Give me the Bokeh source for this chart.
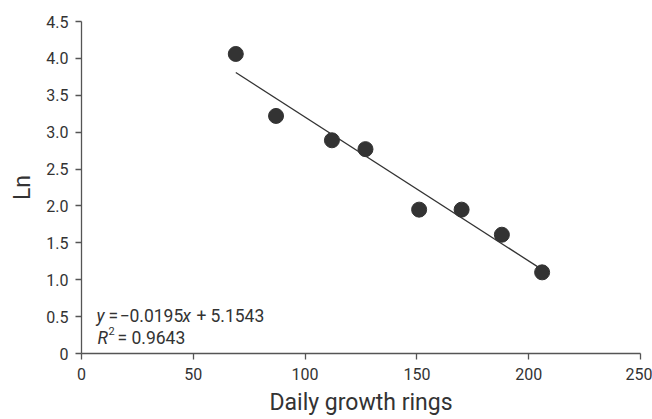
from bokeh.plotting import figure
from bokeh.models import Range1d, Label, FixedTicker
from bokeh.embed import file_html
from bokeh.resources import INLINE

# Data
rings = [69, 87, 112, 127, 151, 170, 188, 206]
ln_vals = [4.06, 3.22, 2.89, 2.77, 1.95, 1.95, 1.61, 1.10]
slope = -0.0195
intercept = 5.1543
r2 = 0.9643
x_ticks = [0, 50, 100, 150, 200, 250]
y_ticks = [0, 0.5, 1.0, 1.5, 2.0, 2.5, 3.0, 3.5, 4.0, 4.5]
y_tick_labels = ["0", "0.5", "1.0", "1.5", "2.0", "2.5", "3.0", "3.5", "4.0", "4.5"]

FONT = "Roboto"
INK = "#333333"
AX = "#555555"

p = figure(width=652, height=419, output_backend="svg", toolbar_location=None,
           x_range=Range1d(0, 250), y_range=Range1d(0, 4.5),
           min_border_left=81, min_border_right=12, min_border_top=21, min_border_bottom=66)
p.outline_line_color = None
p.grid.visible = False
p.background_fill_color = "white"
p.border_fill_color = "white"

# trendline
x0, x1 = min(rings), max(rings)
p.line([x0, x1], [slope * x0 + intercept, slope * x1 + intercept], line_color=INK, line_width=1.3)
p.scatter(rings, ln_vals, size=15, fill_color=INK, line_color=INK)

for ax in (p.xaxis[0], p.yaxis[0]):
    ax.axis_line_color = AX
    ax.axis_line_width = 1.3
    ax.major_tick_line_color = AX
    ax.major_tick_line_width = 1.3
    ax.major_tick_out = 6
    ax.major_tick_in = 0
    ax.minor_tick_line_color = None
    ax.major_label_text_font = FONT
    ax.major_label_text_font_size = "16px"
    ax.major_label_text_color = INK
    ax.axis_label_text_font = FONT
    ax.axis_label_text_font_size = "23px"
    ax.axis_label_text_font_style = "normal"
    ax.axis_label_text_color = INK

p.xaxis.ticker = FixedTicker(ticks=x_ticks)
p.yaxis.ticker = FixedTicker(ticks=y_ticks)
p.yaxis.major_label_overrides = {t: l for t, l in zip(y_ticks, y_tick_labels)}
p.xaxis.axis_label = "Daily growth rings"
p.yaxis.axis_label = "Ln"
p.xaxis.major_label_standoff = 8
p.yaxis.major_label_standoff = 7
p.xaxis.axis_label_standoff = 6
p.yaxis.axis_label_standoff = 7

# equation annotation
ex = 6.7
ey1 = 0.512
ey2 = 0.213
FS = "17.5px"
pieces = [
    ("y", 0, 0, "italic", FS),
    ("=", 12, 0, "normal", FS),
    ("\u22120.0195", 23, 0, "normal", FS),
    ("x", 86, 0, "italic", FS),
    ("+", 100, 0, "normal", FS),
    ("%.4f" % intercept, 114, 0, "normal", FS),
]
for t, dx, dy, st, fs in pieces:
    p.add_layout(Label(x=ex, y=ey1, text=t, x_offset=dx, y_offset=dy, text_font=FONT,
                       text_font_style=st, text_font_size=fs, text_color=INK,
                       text_baseline="alphabetic"))
pieces2 = [
    ("R", 1, 0, "italic", FS),
    ("2", 12, 7, "normal", "11px"),
    ("=", 21, 0, "normal", FS),
    ("%.4f" % r2, 35, 0, "normal", FS),
]
for t, dx, dy, st, fs in pieces2:
    p.add_layout(Label(x=ex, y=ey2, text=t, x_offset=dx, y_offset=dy, text_font=FONT,
                       text_font_style=st, text_font_size=fs, text_color=INK,
                       text_baseline="alphabetic"))

open("out.html", "w").write(file_html(p, INLINE))
